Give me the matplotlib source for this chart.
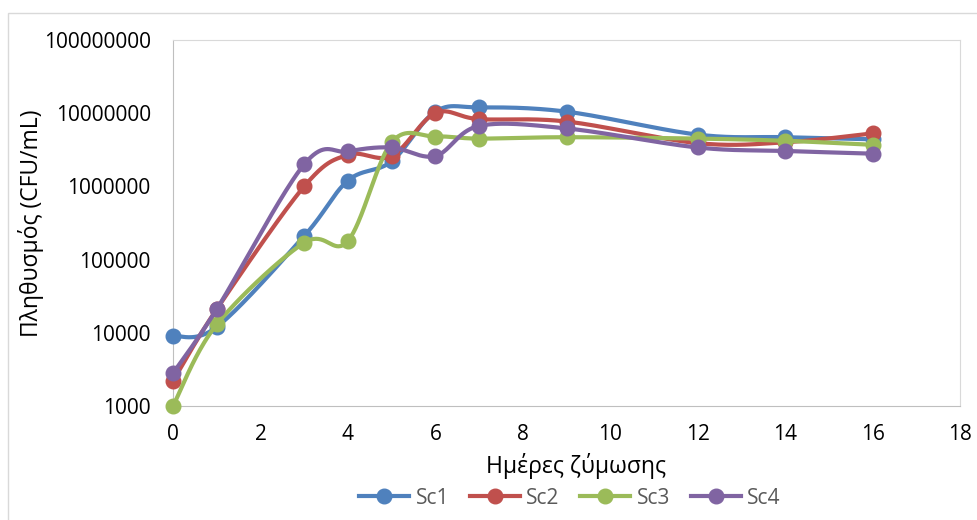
import numpy as np
import matplotlib
matplotlib.use('Agg')
import matplotlib.pyplot as plt
from matplotlib.lines import Line2D
from matplotlib.patches import Rectangle

plt.rcParams['font.family'] = ['Open Sans', 'DejaVu Sans']

# δεδομένα
days = [0, 1, 3, 4, 5, 6, 7, 9, 12, 14, 16]
sc1 = [9000, 12000, 210000, 1200000, 2200000, 10500000, 12000000, 10500000, 5100000, 4700000, 4400000]
sc2 = [2200, 21000, 1000000, 2700000, 2600000, 10000000, 8300000, 7700000, 3900000, 4000000, 5300000]
sc3 = [1000, 13000, 170000, 180000, 4000000, 4800000, 4500000, 4700000, 4500000, 4200000, 3700000]
sc4 = [2800, 21000, 2000000, 3000000, 3400000, 2600000, 6700000, 6200000, 3400000, 3050000, 2800000]
names = ['Sc1', 'Sc2', 'Sc3', 'Sc4']
colors = ['#4F81BD', '#C0504D', '#9BBB59', '#8064A2']


def smooth(x, y, n=40):
    # καμπύλη τύπου Excel (Catmull-Rom) σε log χώρο
    x = np.asarray(x, float)
    y = np.log10(np.asarray(y, float))
    px = np.concatenate([[x[0]], x, [x[-1]]])
    py = np.concatenate([[y[0]], y, [y[-1]]])
    xs, ys = [], []
    t = np.linspace(0, 1, n)
    for i in range(1, len(px) - 2):
        p0 = np.array([px[i], py[i]])
        p3 = np.array([px[i + 1], py[i + 1]])
        c1 = p0 + (p3 - np.array([px[i - 1], py[i - 1]])) / 6
        c2 = p3 - (np.array([px[i + 2], py[i + 2]]) - p0) / 6
        b = ((1 - t) ** 3)[:, None] * p0 + (3 * (1 - t) ** 2 * t)[:, None] * c1 \
            + (3 * (1 - t) * t ** 2)[:, None] * c2 + (t ** 3)[:, None] * p3
        xs.append(b[:, 0])
        ys.append(b[:, 1])
    return np.concatenate(xs), 10 ** np.concatenate(ys)


fig = plt.figure(figsize=(9.78, 5.2), dpi=100)
ax = fig.add_axes([173 / 978, 1 - 406 / 520, (960 - 173) / 978, (406 - 40) / 520])

fig.patches.append(Rectangle((8 / 978, -0.1), 1.2, 1 - 13 / 520 + 0.1, transform=fig.transFigure,
                             fill=False, edgecolor='#D9D9D9', linewidth=1))

for vals, name, c in zip([sc1, sc2, sc3, sc4], names, colors):
    sx, sy = smooth(days, vals)
    ax.plot(sx, sy, color=c, linewidth=3, solid_capstyle='round', zorder=3, clip_on=False)
    ax.plot(days, vals, linestyle='none', marker='o', markersize=10.5, color=c, zorder=3, clip_on=False)

ax.set_yscale('log')
ax.set_ylim(1000, 1e8)
ax.set_xlim(0, 18)
ax.set_xticks(range(0, 19, 2))
ax.set_yticks([1e3, 1e4, 1e5, 1e6, 1e7, 1e8])
ax.set_yticklabels(['1000', '10000', '100000', '1000000', '10000000', '100000000'])
ax.yaxis.set_minor_locator(matplotlib.ticker.NullLocator())
ax.tick_params(length=0, labelsize=15, colors='#000000')
ax.tick_params(axis='y', pad=16)
ax.tick_params(axis='x', pad=13)
for s in ax.spines.values():
    s.set_color('#D9D9D9')
ax.spines['left'].set_color('#BFBFBF')
ax.spines['bottom'].set_color('#BFBFBF')

fig.text(31 / 978, 1 - 223 / 520, 'Πληθυσμός (CFU/mL)', rotation=90, ha='center', va='center', fontsize=16.5)
fig.text(576 / 978, 1 - 466 / 520, 'Ημέρες ζύμωσης', ha='center', va='center', fontsize=16.5)

handles = [Line2D([], [], color=c, linewidth=3, marker='o', markersize=10.5) for c in colors]
fig.legend(handles, names, loc='center', bbox_to_anchor=(570 / 978, 1 - 498 / 520), ncol=4,
           frameon=False, fontsize=15, labelcolor='#595959', handlelength=2.4,
           columnspacing=1.0, handletextpad=0.3)

fig.savefig('out.png', dpi=100)
